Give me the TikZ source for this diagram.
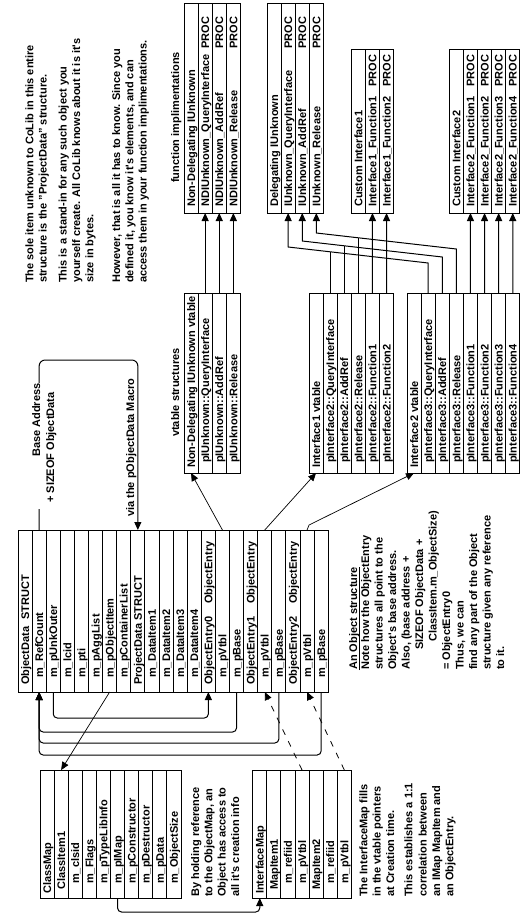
\documentclass[tikz,border=0pt]{standalone}
\usepackage{fontspec}
\setmainfont{Liberation Sans}
\usetikzlibrary{arrows.meta,calc}
\newcommand\myq{\textquotesingle}
\tikzset{
  rowbox/.style={draw, line width=1pt, rectangle, inner sep=0pt, outer sep=0pt, minimum width=14.1pt},
  rowtxt/.style={rotate=90, anchor=base west, inner sep=0pt, font=\fontsize{11}{13}\selectfont\bfseries},
  para/.style={rotate=90, anchor=base west, inner sep=0pt, font=\fontsize{11}{13}\selectfont\bfseries},
  arr/.style={line width=1pt, -{Triangle[length=8pt,width=7pt]}},
  thinarr/.style={line width=0.7pt, -{Triangle[length=8pt,width=7pt]}},
  dasharr/.style={line width=0.8pt, dash pattern=on 6pt off 7pt, -{Triangle[length=8pt,width=7pt]}},
  rc/.style={rounded corners=4pt},
}
% #1 name, #2 x0, #3 ytop, #4 ybot, #5 second column start, #6 rows indent/text/second
\newcommand\mktable[6]{%
  \foreach \indnt/\rtxt/\scol [count=\i from 0] in {#6} {%
    \pgfmathsetmacro\xa{#2+\i*14.1}%
    \pgfmathsetmacro\hh{#4-#3}%
    \node[rowbox, minimum height=\hh pt] (#1-\i) at ({\xa+7.05},{(#3+#4)/2}) {};
    \node[rowtxt] (#1-\i-t) at ({\xa+11},{#4-\indnt}) {\rtxt};
    \ifx\scol\empty\else\node[rowtxt] (#1-\i-s) at ({\xa+11},{#5}) {\scol};\fi
  }%
}
\begin{document}
\begin{tikzpicture}[x=1pt,y=-1pt]
\fill[white] (0,0) rectangle (527,921);
\useasboundingbox (0,0) rectangle (527,921);

% function implementations
\mktable{ndf}{184}{3}{213}{49}{6/Non-Delegating IUnknown/,6/NDIUnknown\_QueryInterface/PROC,6/NDIUnknown\_AddRef/PROC,6/NDIUnknown\_Release/PROC}
\mktable{dl}{267}{3}{213}{49}{6/Delegating IUnknown/,6/IUnknown\_QueryInterface/PROC,6/IUnknown\_AddRef/PROC,6/IUnknown\_Release/PROC}
\mktable{ci1}{351.3}{49}{213}{87}{6/Custom Interface1/,6/Interface1\_Function1/PROC,6/Interface1\_Function2/PROC}
\mktable{ci2}{449.3}{49}{213}{87}{6/Custom Interface2/,6/Interface2\_Function1/PROC,6/Interface2\_Function2/PROC,6/Interface2\_Function3/PROC,6/Interface2\_Function4/PROC}

% vtables
\mktable{ndv}{184}{293}{473}{0}{5/Non-Delegating IUnknown vtable/,10/pIUnknown::QueryInterface/,10/pIUnknown::AddRef/,10/pIUnknown::Release/}
\mktable{i1v}{309}{293}{473}{0}{5/Interface1 vtable/,10/pInterface2::QueryInterface/,10/pInterface2::AddRef/,10/pInterface2::Release/,10/pInterface2::Function1/,10/pInterface2::Function2/}
\mktable{i2v}{407}{293}{473}{0}{5/Interface2 vtable/,10/pInterface3::QueryInterface/,10/pInterface3::AddRef/,10/pInterface3::Release/,10/pInterface3::Function1/,10/pInterface3::Function2/,10/pInterface3::Function3/,10/pInterface3::Function4/}

% object data
\mktable{od}{18}{530}{692}{604}{7/ObjectData\hspace{7pt}STRUCT/,14/m\_RefCount/,14/m\_pUnkOuter/,14/m\_lcid/,14/m\_pti/,14/m\_pAggList/,14/m\_pObjectItem/,14/m\_pContainerList/,7/ProjectData STRUCT/,14/m\_DataItem1/,14/m\_DataItem2/,14/m\_DataItem3/,14/m\_DataItem4/,7/ObjectEntry0/ObjectEntry,14/m\_pVtbl/,14/m\_pBase/,7/ObjectEntry1/ObjectEntry,14/m\_pVtbl/,14/m\_pBase/,7/ObjectEntry2/ObjectEntry,14/m\_pVtbl/,14/m\_pBase/}

% class map and interface map
\mktable{cm}{40}{770}{898}{0}{4/ClassMap/,8/ClassItem1/,14/m\_clsid/,14/m\_Flags/,14/m\_pTypeLibInfo/,14/m\_pIMap/,14/m\_pConstructor/,14/m\_pDestructor/,14/m\_pData/,14/m\_ObjectSize/}
\mktable{im}{252.7}{770}{898}{0}{4/InterfaceMap/,8/MapItem1/,14/m\_refiid/,14/m\_pVtbl/,8/MapItem2/,14/m\_refiid/,14/m\_pVtbl/}

% vtable -> implementations
\foreach \k in {1,2,3} \draw[arr] (ndv-\k.north) -- (ndf-\k.south);
\draw[arr] (i1v-4.north) -- (ci1-1.south);
\draw[arr] (i1v-5.north) -- (ci1-2.south);
\foreach \k in {1,...,4} {\pgfmathtruncatemacro\j{\k+3}\draw[arr] (i2v-\j.north) -- (ci2-\k.south);}
\draw[arr] (i2v-1.north) -- ++(0,-30) -- ($(dl-1.south)+(0,34)$) -- (dl-1.south);
\draw[arr] (i2v-2.north) -- ++(0,-36) -- ($(dl-2.south)+(0,28)$) -- (dl-2.south);
\draw[arr] (i2v-3.north) -- ++(0,-44) -- ($(dl-3.south)+(0,20)$) -- (dl-3.south);
\draw[line width=1pt] (i1v-1.north) -- ++(0,-41.2);
\draw[line width=1pt] (i1v-2.north) -- ++(0,-47.2);
\draw[line width=1pt] (i1v-3.north) -- ++(0,-55.2);

% object data -> vtables
\draw[thinarr] (od-14.north) -- (ndv-0.south);
\draw[thinarr] (od-17.north) -- (i1v-0.south);
\draw[thinarr] (od-20.north) -- ++(2,-5) -- (i2v-0.south);

% loop via pObjectData macro
\draw[arr, rounded corners=6pt] (od-1.north) -- ++(0,-170) -| (od-8.north);
\fill[white] (29,383) rectangle (57,509);
\node[para] (ba1) at (40,457) {Base Address};
\node[para] (ba2) at (54,503) {+ SIZEOF ObjectData};
\node[para] (via) at (134,517) {via the pObjectData Macro};

% below object data
\draw[arr, rc] (od-2.south) -- ++(0,26) -| (od-13.south);
\draw[arr, rc] (od-15.south) -- ++(0,40) -| (od-1.south);
\draw[arr, rc] (od-18.south) -- ++(0,51) -| (od-1.south);
\draw[arr, rc] (od-21.south) -- ++(0,63) -| (od-1.south);
\draw[thinarr] (od-6.south) -- (cm-1.north);
\draw[dasharr] (im-3.north) -- (od-17.south);
\draw[dasharr] (im-6.north) -- (od-20.south);
\draw[arr, rc] (cm-5.south) -- ++(0,14) -| (im-0.south);

% texts
\node[para] (t1) at (33.3,283) {The sole item unknown to CoLib in this entire};
\node[para] (t2) at (46.7,283) {structure is the "ProjectData" structure.};
\node[para] (t3) at (66.7,283) {This is a stand-in for any such object you};
\node[para] (t4) at (80,283) {yourself create. All CoLib knows about it is it\myq s};
\node[para] (t5) at (93.3,283) {size in bytes.};
\node[para] (t6) at (120,283) {However, that is all it has to know. Since you};
\node[para] (t7) at (133.3,283) {defined it, you know it\myq s elements, and can};
\node[para] (t8) at (146.7,283) {access them in your function implimentations.};
\node[para] (lf) at (179,183) {function implimentations};
\node[para] (lv) at (179,437) {vtable structures};

\node[para] (h1) at (199,897) {By holding reference};
\node[para] (h2) at (212.3,897) {to the ObjectMap, an};
\node[para] (h3) at (225.7,897) {Object has access to};
\node[para] (h4) at (239,897) {all it\myq s creation info};

\node[para] (f1) at (367.3,897) {The InterfaceMap fills};
\node[para] (f2) at (380.7,897) {in the vtable pointers};
\node[para] (f3) at (394,897) {at Creation time.};
\node[para] (f4) at (412.3,897) {This establishes a 1:1};
\node[para] (f5) at (426.7,897) {correlation between};
\node[para] (f6) at (440,897) {an IMap MapItem and};
\node[para] (f7) at (453.3,897) {an ObjectEntry.};

\node[para] (os) at (357,670) {An Object structure};
\draw[line width=0.8pt] ($(os.base west)+(2.5,0)$) -- ($(os.base east)+(2.5,0)$);
\node[para] (o1) at (369,670) {Note how the ObjectEntry};
\node[para] (o2) at (382.5,670) {structures all point to the};
\node[para] (o3) at (396,670) {Object\myq s base address.};
\node[para] (o4) at (409.5,670) {Also, (base address +};
\node[para] (o5) at (423,650) {SIZEOF ObjectData +};
\node[para] (o6) at (436.5,642) {ClassItem.m\_ObjectSize)};
\node[para] (o7) at (450,670) {= ObjectEntry0};
\node[para] (o8) at (463.5,670) {Thus, we can};
\node[para] (o9) at (477,670) {find any part of the Object};
\node[para] (o10) at (490.5,670) {structure given any reference};
\node[para] (o11) at (504,670) {to it.};
\end{tikzpicture}
\end{document}
